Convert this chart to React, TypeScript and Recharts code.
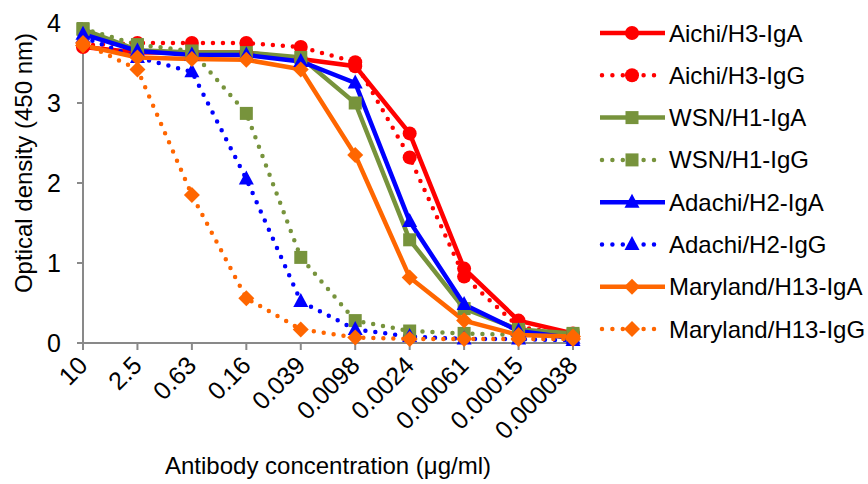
import React from 'react';
import { LineChart, Line, XAxis, YAxis } from 'recharts';

const concentrations = ['10', '2.5', '0.63', '0.16', '0.039', '0.0098', '0.0024', '0.00061', '0.00015', '0.000038'];
const aichiIgA = [3.70, 3.63, 3.63, 3.63, 3.55, 3.46, 2.62, 0.93, 0.28, 0.12];
const aichiIgG = [3.72, 3.75, 3.75, 3.75, 3.70, 3.51, 2.32, 0.83, 0.20, 0.10];
const wsnIgA = [3.92, 3.66, 3.63, 3.63, 3.57, 3.00, 1.29, 0.43, 0.17, 0.12];
const wsnIgG = [3.93, 3.73, 3.65, 2.87, 1.07, 0.28, 0.15, 0.12, 0.10, 0.10];
const adachiIgA = [3.86, 3.65, 3.60, 3.60, 3.52, 3.25, 1.52, 0.48, 0.15, 0.06];
const adachiIgG = [3.82, 3.57, 3.39, 2.05, 0.52, 0.17, 0.08, 0.05, 0.05, 0.03];
const marylandIgA = [3.72, 3.57, 3.55, 3.54, 3.42, 2.35, 0.82, 0.28, 0.10, 0.08];
const marylandIgG = [3.75, 3.42, 1.85, 0.56, 0.17, 0.07, 0.05, 0.05, 0.05, 0.05];
const yTicks = [0, 1, 2, 3, 4];

const seriesNames = [
  'Aichi/H3-IgA', 'Aichi/H3-IgG', 'WSN/H1-IgA', 'WSN/H1-IgG',
  'Adachi/H2-IgA', 'Adachi/H2-IgG', 'Maryland/H13-IgA', 'Maryland/H13-IgG',
];
const seriesValues = [aichiIgA, aichiIgG, wsnIgA, wsnIgG, adachiIgA, adachiIgG, marylandIgA, marylandIgG];

type Shape = 'circle' | 'square' | 'triangle' | 'diamond';
const RED = '#FF0000';
const GREEN = '#77933C';
const BLUE = '#0000FF';
const ORANGE = '#FF6600';
const styles: { color: string; shape: Shape; dotted: boolean }[] = [
  { color: RED, shape: 'circle', dotted: false },
  { color: RED, shape: 'circle', dotted: true },
  { color: GREEN, shape: 'square', dotted: false },
  { color: GREEN, shape: 'square', dotted: true },
  { color: BLUE, shape: 'triangle', dotted: false },
  { color: BLUE, shape: 'triangle', dotted: true },
  { color: ORANGE, shape: 'diamond', dotted: false },
  { color: ORANGE, shape: 'diamond', dotted: true },
];

const data = concentrations.map((c, i) => {
  const row: Record<string, string | number> = { conc: c };
  seriesNames.forEach((n, s) => {
    row[n] = seriesValues[s][i];
  });
  return row;
});

const FONT = '"Liberation Sans", Arial, sans-serif';
const AXIS = '#898989';

function Marker({ shape, cx, cy, color }: { shape: Shape; cx: number; cy: number; color: string }) {
  switch (shape) {
    case 'circle':
      return <circle cx={cx} cy={cy} r={7} fill={color} />;
    case 'square':
      return <rect x={cx - 6.5} y={cy - 6.5} width={13} height={13} fill={color} />;
    case 'triangle':
      return <polygon points={`${cx},${cy - 8.5} ${cx + 7.5},${cy + 5.5} ${cx - 7.5},${cy + 5.5}`} fill={color} />;
    default:
      return <polygon points={`${cx},${cy - 8} ${cx + 8},${cy} ${cx},${cy + 8} ${cx - 8},${cy}`} fill={color} />;
  }
}

const makeDot = (shape: Shape, color: string, name: string) => (props: any) => {
  const { cx, cy, index } = props;
  if (cx == null || cy == null) return <g key={`${name}-${index}`} />;
  return (
    <g key={`${name}-${index}`}>
      <Marker shape={shape} cx={cx} cy={cy} color={color} />
    </g>
  );
};

function XTick(props: any) {
  const { x, y, payload } = props;
  const px = x + 6;
  const py = y + 17;
  return (
    <text
      x={px}
      y={py}
      transform={`rotate(-45 ${px} ${py})`}
      textAnchor="end"
      fontSize={25}
      fontFamily={FONT}
      fill="#000"
    >
      {payload.value}
    </text>
  );
}

function LegendBox() {
  return (
    <svg width={278} height={360} style={{ position: 'absolute', left: 590, top: 0 }}>
      {seriesNames.map((n, i) => {
        const st = styles[i];
        const cy = 33 + i * 42.3;
        return (
          <g key={n}>
            {st.dotted ? (
              <line x1={12} y1={cy} x2={64} y2={cy} stroke={st.color} strokeWidth={4.5}
                strokeDasharray="0 10.4" strokeLinecap="round" />
            ) : (
              <line x1={10} y1={cy} x2={75} y2={cy} stroke={st.color} strokeWidth={4.5} />
            )}
            <Marker shape={st.shape} cx={42} cy={cy} color={st.color} />
            <text x={79} y={cy} dominantBaseline="central" fontSize={24} fontFamily={FONT} fill="#000">
              {n}
            </text>
          </g>
        );
      })}
    </svg>
  );
}

export default function App() {
  return (
    <div style={{ position: 'absolute', left: 0, top: 0, width: 868, height: 484, background: '#fff' }}>
      <LineChart
        width={868}
        height={484}
        data={data}
        margin={{ top: 23, right: 295, bottom: 0, left: 0 }}
      >
        <XAxis
          dataKey="conc"
          scale="point"
          padding={{ left: 0, right: 0 }}
          height={141}
          interval={0}
          axisLine={{ stroke: AXIS, strokeWidth: 2 }}
          tickLine={{ stroke: AXIS, strokeWidth: 2 }}
          tickSize={7}
          tickMargin={0}
          tick={<XTick />}
        />
        <YAxis
          domain={[0, 4]}
          ticks={yTicks}
          width={83}
          axisLine={{ stroke: AXIS, strokeWidth: 2 }}
          tickLine={{ stroke: AXIS, strokeWidth: 2 }}
          tickSize={6}
          tickMargin={16}
          tick={{ fontSize: 25, fill: '#000', fontFamily: FONT }}
        />
        {seriesNames.map((n, i) => {
          const st = styles[i];
          return (
            <Line
              key={n}
              dataKey={n}
              name={n}
              type="linear"
              stroke={st.color}
              strokeWidth={4.5}
              strokeDasharray={st.dotted ? '0 10' : undefined}
              strokeLinecap="round"
              dot={makeDot(st.shape, st.color, n)}
              activeDot={false}
              isAnimationActive={false}
            />
          );
        })}
      </LineChart>
      <svg width={868} height={484} style={{ position: 'absolute', left: 0, top: 0, pointerEvents: 'none' }}>
        <text
          x={23}
          y={163}
          transform="rotate(-90 23 163)"
          textAnchor="middle"
          dominantBaseline="central"
          fontSize={24}
          fontFamily={FONT}
          fill="#000"
        >
          Optical density (450 nm)
        </text>
        <text x={328} y={474} textAnchor="middle" fontSize={24} fontFamily={FONT} fill="#000">
          Antibody concentration (μg/ml)
        </text>
      </svg>
      <LegendBox />
    </div>
  );
}
